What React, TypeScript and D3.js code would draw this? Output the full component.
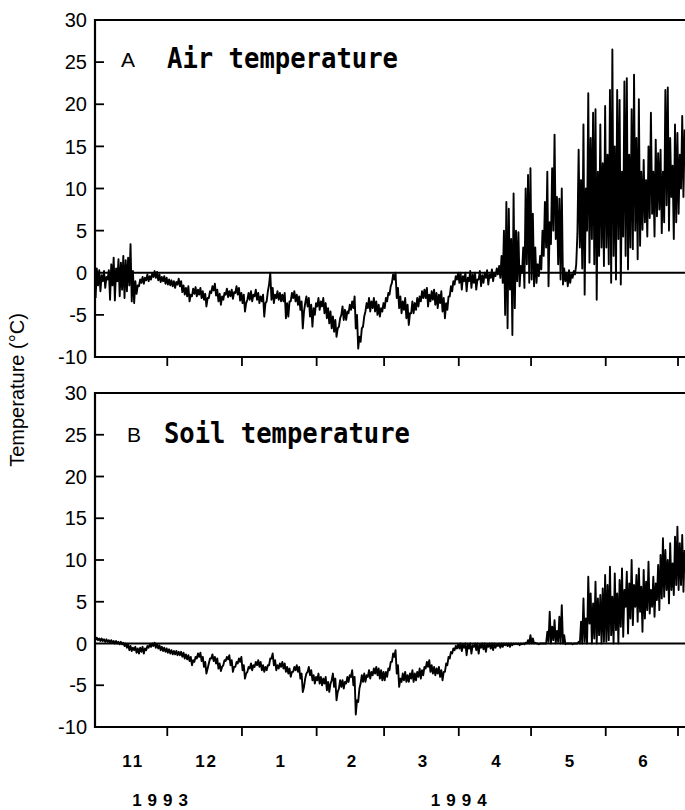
import React from "react";
import * as d3 from "d3";

// daily max / min, one value per day from 1 Nov 1993 to 3 Jul 1994
const airHigh = [
  0.5, 0.3, -0.3, 0.2, -0.5, 0.3, 1.0, 1.8, 0.5, 1.6, 1.2, 2.0, 1.5, 1.8, 3.4, 0.2, -1.0, -1.5, -0.8, -0.5, -0.6, -0.2, -0.4, -0.1, 0.2, 0.1, -0.2, -0.5, -0.4, -0.6,
  -0.8, -0.9, -1.0, -1.1, -0.7, -1.0, -1.5, -1.8, -1.6, -2.6, -1.9, -1.7, -2.0, -1.8, -2.2, -2.5, -3.0, -2.2, -1.6, -1.3, -2.0, -2.5, -2.8, -2.4, -1.9, -2.2, -2.0, -2.3, -1.6, -1.8, -2.4,
  -2.6, -3.6, -2.4, -2.2, -2.6, -2.0, -2.4, -2.8, -2.6, -3.6, -2.2, 0.0, -1.8, -2.6, -2.2, -2.4, -2.6, -2.4, -3.6, -3.4, -2.4, -2.2, -2.6, -2.8, -3.4, -4.6, -2.8, -3.0, -3.8, -4.2, -3.6,
  -3.0, -3.4, -3.0, -3.6, -4.2, -4.6, -5.2, -5.6, -6.6, -5.4, -4.0, -4.4, -4.6, -3.8, -3.4, -2.8, -5.0, -7.6, -6.6, -5.2, -3.6, -3.0, -3.4, -3.0, -3.4, -3.8, -4.2, -3.6,
  -3.0, -2.4, -1.6, -0.2, 0.0, -1.8, -2.8, -3.4, -3.0, -3.8, -4.8, -3.4, -3.6, -3.0, -2.8, -2.2, -2.0, -1.8, -2.6, -2.2, -2.0, -2.4, -2.6, -2.2, -3.0, -3.6, -2.8, -1.6, -1.0, -0.4, 0.0,
  0.0, -0.4, 0.0, -0.6, 0.2, -0.2, 0.0, -0.8, 0.2, -0.3, 0.0, 0.3, -0.2, 0.4, 0.0, 0.5, 0.8, 2.0, 5.0, 8.4, 7.6, 4.0, 9.4, 5.0, 4.8, 0.8, 3.0, 10.0, 11.6, 12.4,
  7.0, 3.0, 1.0, 2.0, 5.0, 8.4, 12.0, 6.0, 12.4, 16.4, 9.0, 8.8, 10.0, 0.5, 0.0, 0.3, -0.2, 0.2, 1.0, 14.6, 11.0, 17.6, 10.0, 21.3, 16.0, 19.0, 19.4, 12.0, 17.6, 13.0, 19.8,
  14.0, 21.7, 26.5, 15.0, 21.7, 20.5, 12.0, 22.7, 23.1, 14.0, 19.4, 23.5, 16.0, 20.6, 12.0, 13.4, 11.0, 15.0, 19.0, 12.0, 15.8, 14.2, 14.6, 12.0, 21.7, 22.0, 16.0, 12.7, 17.6, 16.6,
  14.0, 18.6, 17.0,
];
const airLow = [
  -3.0, -1.5, -2.2, -1.0, -1.8, -0.8, -3.2, -1.5, -3.3, -1.0, -2.8, -2.0, -3.0, -2.2, -1.5, -3.4, -3.6, -2.5, -1.6, -1.2, -1.3, -0.9, -1.0, -0.8, -0.5, -0.6, -0.9, -1.1, -1.0, -1.3,
  -1.4, -1.5, -1.6, -1.8, -1.4, -1.6, -2.3, -2.6, -2.8, -3.4, -2.8, -2.5, -2.8, -2.6, -3.0, -3.2, -4.0, -3.0, -2.4, -2.1, -2.7, -3.4, -3.8, -3.2, -2.6, -2.9, -2.8, -3.1, -2.4, -2.6, -3.3,
  -3.6, -4.6, -3.2, -3.2, -3.4, -2.8, -3.2, -3.6, -3.4, -5.2, -3.4, -1.4, -3.2, -3.6, -3.0, -3.2, -3.4, -3.4, -5.4, -5.2, -3.4, -3.0, -3.4, -3.8, -4.4, -6.6, -3.6, -4.0, -5.2, -6.4, -5.0,
  -4.0, -4.4, -4.0, -4.8, -5.4, -6.0, -6.6, -7.0, -7.6, -6.4, -5.0, -5.6, -5.6, -4.8, -4.4, -4.2, -6.6, -9.0, -8.2, -6.4, -4.6, -4.2, -4.6, -4.2, -4.6, -5.0, -5.2, -4.6,
  -4.2, -3.4, -2.6, -1.2, -0.8, -3.0, -4.2, -4.8, -4.4, -5.4, -6.2, -4.8, -4.8, -4.4, -4.0, -3.4, -3.0, -3.0, -4.0, -3.4, -3.2, -3.8, -4.2, -3.6, -4.6, -5.4, -4.4, -2.8, -2.2, -1.4, -0.8,
  -1.2, -2.0, -1.0, -2.2, -1.0, -1.8, -1.2, -2.0, -0.8, -1.6, -1.2, -0.6, -1.4, -0.6, -1.0, -0.4, -0.2, -0.6, -1.2, -5.0, -6.6, -2.0, -7.4, -4.2, -1.0, -1.6, 0.0, -1.8, 1.0, -1.2,
  -0.8, -1.6, -1.2, -0.4, 0.4, 2.0, 3.0, -1.6, 3.4, 5.0, 4.0, 1.0, -0.8, -1.4, -1.0, -1.6, -1.2, -0.6, -0.2, 4.7, 3.0, 0.5, -2.6, 5.0, 1.2, 4.0, 1.0, -3.2, 2.0, 3.0, 0.8,
  3.0, 1.0, -1.2, 2.0, -0.8, 4.0, -1.4, 4.3, 2.0, 0.4, 3.0, 2.8, 5.0, 1.6, 3.2, 5.1, 6.0, 4.3, 6.5, 7.0, 4.3, 6.7, 7.5, 4.7, 6.0, 8.0, 5.0, 9.0, 4.0, 6.0,
  7.0, 10.0, 9.0,
];
const soilHigh = [
  0.7, 0.6, 0.6, 0.5, 0.5, 0.4, 0.4, 0.3, 0.3, 0.2, 0.2, 0.1, 0.0, -0.1, -0.3, -0.5, -0.4, -0.6, -0.5, -0.4, -0.6, -0.3, -0.1, 0.0, 0.1, -0.1, -0.2, -0.4, -0.5, -0.6,
  -0.7, -0.8, -0.9, -0.9, -1.0, -1.0, -1.1, -1.3, -1.4, -1.6, -2.0, -1.6, -1.2, -1.1, -1.6, -2.2, -3.0, -1.8, -1.3, -1.6, -1.8, -2.4, -2.8, -2.0, -1.6, -1.4, -2.0, -2.8, -2.2, -1.8, -1.6,
  -2.6, -3.6, -2.8, -2.4, -2.6, -2.2, -2.0, -2.2, -2.6, -2.8, -2.6, -1.8, -1.2, -2.0, -2.6, -2.4, -2.2, -2.4, -2.8, -3.0, -3.4, -2.8, -2.6, -2.8, -3.6, -5.2, -3.6, -2.8, -3.2, -3.8, -4.0,
  -3.6, -4.0, -4.2, -4.0, -4.6, -4.8, -3.6, -4.2, -5.8, -4.4, -4.4, -4.6, -4.0, -3.8, -3.2, -4.0, -6.8, -5.4, -3.8, -3.6, -3.8, -3.2, -3.4, -3.0, -2.8, -3.0, -3.2, -3.4,
  -3.4, -3.0, -2.2, -1.2, -0.8, -2.6, -4.2, -3.6, -3.4, -3.8, -3.6, -3.2, -3.6, -3.4, -3.0, -3.2, -2.8, -2.2, -2.0, -2.6, -2.8, -3.0, -2.8, -3.2, -3.4, -2.4, -1.6, -1.0, -0.6, -0.3, -0.1,
  0.0, -0.1, 0.0, -0.1, 0.0, -0.2, 0.0, 0.0, -0.1, 0.0, 0.0, -0.1, 0.0, 0.0, 0.0, -0.1, 0.0, 0.0, 0.0, 0.0, 0.0, 0.0, 0.0, 0.0, 0.0, 0.0, 0.0, 0.1, 0.4, 1.0,
  0.6, 0.1, 0.0, 0.0, 0.0, 0.0, 1.4, 3.8, 2.0, 2.8, 1.5, 3.2, 4.6, 1.0, 0.0, 0.0, 0.0, 0.0, 0.0, 0.2, 2.6, 5.4, 3.0, 8.0, 6.0, 4.8, 7.4, 5.4, 5.8, 6.6, 8.2,
  7.0, 9.2, 5.6, 8.4, 6.0, 7.6, 9.0, 6.4, 8.6, 7.2, 10.0, 7.0, 8.2, 9.0, 6.8, 8.8, 7.4, 9.8, 6.4, 8.0, 7.2, 9.4, 10.6, 12.6, 11.2, 10.0, 12.0, 9.6, 12.8, 14.0,
  12.0, 13.0, 11.2,
];
const soilLow = [
  0.4, 0.4, 0.3, 0.3, 0.2, 0.2, 0.1, 0.1, 0.0, 0.0, -0.1, -0.1, -0.3, -0.5, -0.8, -0.9, -0.8, -1.1, -1.2, -1.0, -1.2, -0.8, -0.5, -0.4, -0.3, -0.5, -0.6, -0.8, -0.9, -1.0,
  -1.1, -1.2, -1.3, -1.3, -1.4, -1.4, -1.6, -1.8, -1.9, -2.1, -2.6, -2.2, -1.8, -1.6, -2.1, -2.8, -3.6, -2.4, -1.8, -2.1, -2.4, -3.0, -3.3, -2.6, -2.1, -1.9, -2.6, -3.4, -2.8, -2.4, -2.2,
  -3.2, -4.2, -3.4, -3.0, -3.2, -2.8, -2.6, -2.8, -3.2, -3.4, -3.2, -2.6, -1.8, -2.6, -3.2, -3.0, -2.8, -3.0, -3.4, -3.6, -4.0, -3.4, -3.2, -3.4, -4.2, -5.8, -4.2, -3.4, -3.8, -4.4, -4.8,
  -4.4, -4.8, -5.0, -4.8, -5.6, -5.8, -4.4, -5.2, -6.8, -5.4, -5.2, -5.4, -4.8, -4.6, -4.0, -5.0, -8.5, -7.0, -4.8, -4.6, -4.6, -4.0, -4.2, -3.8, -3.6, -3.8, -4.2, -4.4,
  -4.4, -4.0, -3.2, -2.2, -1.6, -3.6, -5.2, -4.6, -4.4, -4.6, -4.6, -4.2, -4.6, -4.4, -4.0, -4.2, -3.8, -3.0, -2.8, -3.4, -3.6, -3.8, -3.6, -4.0, -4.4, -3.4, -2.6, -1.8, -1.2, -0.8, -0.6,
  -0.6, -0.9, -0.5, -1.4, -0.6, -1.2, -0.4, -0.8, -1.2, -0.5, -0.7, -1.0, -0.4, -0.6, -0.8, -0.5, -0.3, -0.5, -0.4, -0.2, -0.3, -0.4, -0.2, -0.1, -0.1, -0.2, -0.1, -0.1, 0.0, 0.0,
  0.0, 0.0, 0.0, -0.1, 0.0, 0.0, 0.0, 0.2, 0.0, 0.4, 0.0, 0.2, 0.0, 0.0, -0.1, 0.0, 0.0, -0.1, 0.0, 0.0, 0.0, 0.0, 0.2, 0.0, 2.4, 0.0, 0.6, 0.0, 1.0, 0.0, 0.2,
  0.2, 0.4, 1.0, 0.0, 1.6, 0.0, 2.0, 0.8, 4.4, 1.2, 3.0, 2.2, 4.4, 2.6, 3.8, 1.4, 3.0, 4.0, 3.6, 4.4, 3.2, 5.2, 4.0, 5.4, 5.6, 6.4, 4.8, 6.4, 5.8, 7.0,
  6.4, 7.0, 6.2,
];

const monthLabels = ["11", "12", "1", "2", "3", "4", "5", "6"];
const yearLabels = [
  { label: "1993", date: Date.UTC(1993, 10, 28) },
  { label: "1994", date: Date.UTC(1994, 3, 1) },
];
const yTicks = [-10, -5, 0, 5, 10, 15, 20, 25, 30];

const W = 685;
const H = 810;
const LEFT = 95;
const RIGHT = 685;
const DAY_MS = 86400000;
const t0 = Date.UTC(1993, 10, 1);

const x = d3
  .scaleUtc()
  .domain([new Date(t0), new Date(t0 + 244.9 * DAY_MS)])
  .range([LEFT, RIGHT]);

// 1 Nov ... 1 Jul
const monthStarts = d3.utcMonth.range(new Date(t0), new Date(Date.UTC(1994, 6, 2)));

const titleFont = "'DejaVu Sans Mono', monospace";
const numFont = "'Liberation Sans', Arial, sans-serif";

function Panel({ id, top, bottom, high, low, letter, title, titleLen, letterX, titleX, baseY }) {
  const y = d3.scaleLinear().domain([-10, 30]).range([bottom, top]);

  // two readings a day: the minimum, then the maximum
  const pts: [number, number][] = [];
  high.forEach((h, i) => {
    pts.push([t0 + (i + 0.25) * DAY_MS, low[i]]);
    pts.push([t0 + (i + 0.75) * DAY_MS, h]);
  });
  const line = d3
    .line<[number, number]>()
    .x((d) => x(new Date(d[0])))
    .y((d) => y(d[1]));

  return (
    <g>
      <defs>
        <clipPath id={id}>
          <rect x={LEFT} y={top - 2} width={RIGHT - LEFT} height={bottom - top + 4} />
        </clipPath>
      </defs>

      <path d={line(pts)!} fill="none" stroke="#000" strokeWidth={1.9} strokeLinejoin="round" clipPath={`url(#${id})`} />

      {/* frame */}
      <line x1={LEFT} x2={RIGHT} y1={y(30)} y2={y(30)} stroke="#000" strokeWidth={2} />
      <line x1={LEFT} x2={RIGHT} y1={y(-10)} y2={y(-10)} stroke="#000" strokeWidth={2.2} />
      <line x1={LEFT} x2={RIGHT} y1={y(0)} y2={y(0)} stroke="#000" strokeWidth={2} />
      <line x1={LEFT} x2={LEFT} y1={y(30) - 1} y2={y(-10) + 1} stroke="#000" strokeWidth={2.2} />

      {yTicks.map((v) => (
        <g key={v}>
          {v > -10 && v < 30 && v !== 0 && (
            <line x1={LEFT} x2={LEFT + 9} y1={y(v)} y2={y(v)} stroke="#000" strokeWidth={1.8} />
          )}
          <text x={87} y={y(v)} dy="0.36em" textAnchor="end" fontFamily={numFont} fontSize={20}>
            {v}
          </text>
        </g>
      ))}

      {monthStarts.slice(1).map((d) => (
        <line key={+d} x1={x(d)} x2={x(d)} y1={y(-10)} y2={y(-10) + 9} stroke="#000" strokeWidth={1.8} />
      ))}

      <text x={letterX} y={baseY} fontFamily={numFont} fontSize={21}>
        {letter}
      </text>
      <text
        x={titleX}
        y={baseY + 1}
        fontFamily={titleFont}
        fontWeight="bold"
        fontSize={29}
        textLength={titleLen}
        lengthAdjust="spacingAndGlyphs"
      >
        {title}
      </text>
    </g>
  );
}

export default function App() {
  const mids = monthLabels.map((m, i) => ({
    m,
    cx: (x(monthStarts[i]) + x(monthStarts[i + 1])) / 2,
  }));

  return (
    <svg
      width={W}
      height={H}
      viewBox={`0 0 ${W} ${H}`}
      style={{ position: "absolute", left: 0, top: 0, background: "#fff" }}
    >
      <rect width={W} height={H} fill="#fff" />
      <Panel
        id="clipA"
        top={20}
        bottom={357}
        high={airHigh}
        low={airLow}
        letter="A"
        title="Air temperature"
        titleLen={231}
        letterX={121}
        titleX={167}
        baseY={67}
      />
      <Panel
        id="clipB"
        top={393}
        bottom={727}
        high={soilHigh}
        low={soilLow}
        letter="B"
        title="Soil temperature"
        titleLen={246}
        letterX={127}
        titleX={164}
        baseY={442}
      />

      <text
        transform="translate(24,390) rotate(-90)"
        textAnchor="middle"
        fontFamily={numFont}
        fontSize={20}
      >
        Temperature (°C)
      </text>

      {mids.map(({ m, cx }) => (
        <text key={m} x={cx + 2} y={767} textAnchor="middle" fontFamily={numFont} fontWeight="bold" fontSize={17} letterSpacing={2}>
          {m}
        </text>
      ))}
      {yearLabels.map((d) => (
        <text
          key={d.label}
          x={x(new Date(d.date)) + 3}
          y={806}
          textAnchor="middle"
          fontFamily={numFont}
          fontWeight="bold"
          fontSize={17}
          letterSpacing={6}
        >
          {d.label}
        </text>
      ))}
    </svg>
  );
}
